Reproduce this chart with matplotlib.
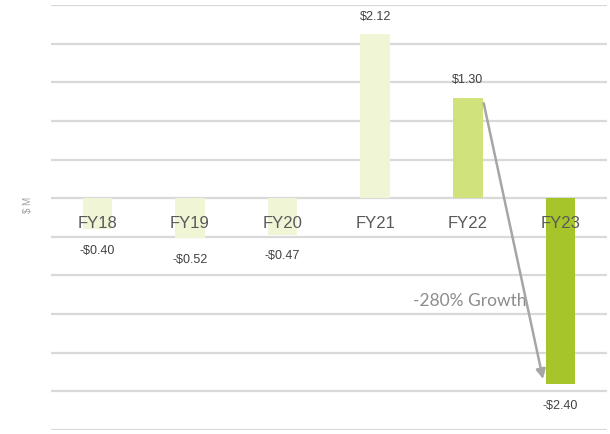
import matplotlib.pyplot as plt
import numpy as np

years = ["FY18", "FY19", "FY20", "FY21", "FY22", "FY23"]
values = [-0.40, -0.52, -0.47, 2.12, 1.30, -2.40]
value_labels = ["-$0.40", "-$0.52", "-$0.47", "$2.12", "$1.30", "-$2.40"]
bar_colors = ["#EFF5D5", "#EFF5D5", "#EFF5D5", "#EFF5D5", "#CFE27B", "#A6C52B"]

plt.rcParams['font.family'] = ['Liberation Sans', 'DejaVu Sans']

fig = plt.figure(figsize=(6.1, 4.35), dpi=100)
ax = fig.add_axes([0.0836, 0.0092, 0.9114, 0.9768])

x = np.arange(len(years))
ax.bar(x, values, width=0.32, color=bar_colors, zorder=2)

ax.set_xlim(-0.5, 5.5)
ax.set_ylim(-3.0, 2.5)
for g in np.arange(-3.0, 2.51, 0.5):
    ax.axhline(g, color="#D9D9D9", lw=1.6, zorder=1)

# category names sit just under the zero line
for xi, name in zip(x, years):
    ax.text(xi, -0.31, name, ha="center", va="center", fontsize=12,
            color="#595959", zorder=3)

# value labels
for xi, v, lab in zip(x, values, value_labels):
    off = 0.24 if v > 0 else -0.27
    ax.text(xi, v + off, lab, ha="center", va="center", fontsize=9,
            color="#404040", zorder=3)

ax.annotate("", xy=(4.81, -2.34), xytext=(4.17, 1.23),
            arrowprops=dict(arrowstyle="-|>", color="#A6A6A6", lw=1.8,
                            mutation_scale=14, shrinkA=0, shrinkB=0), zorder=4)
ax.text(4.02, -1.32, "-280% Growth", ha="center", va="center", fontsize=12.5,
        color="#8C8C8C", family=["Lato", "DejaVu Sans"], zorder=3)

fig.text(0.046, 0.53, "$ M", rotation=90, ha="center", va="center",
         fontsize=7, color="#A0A0A0")

ax.set_xticks([])
ax.set_yticks([])
for s in ax.spines.values():
    s.set_visible(False)

fig.savefig("out.png", dpi=100)
